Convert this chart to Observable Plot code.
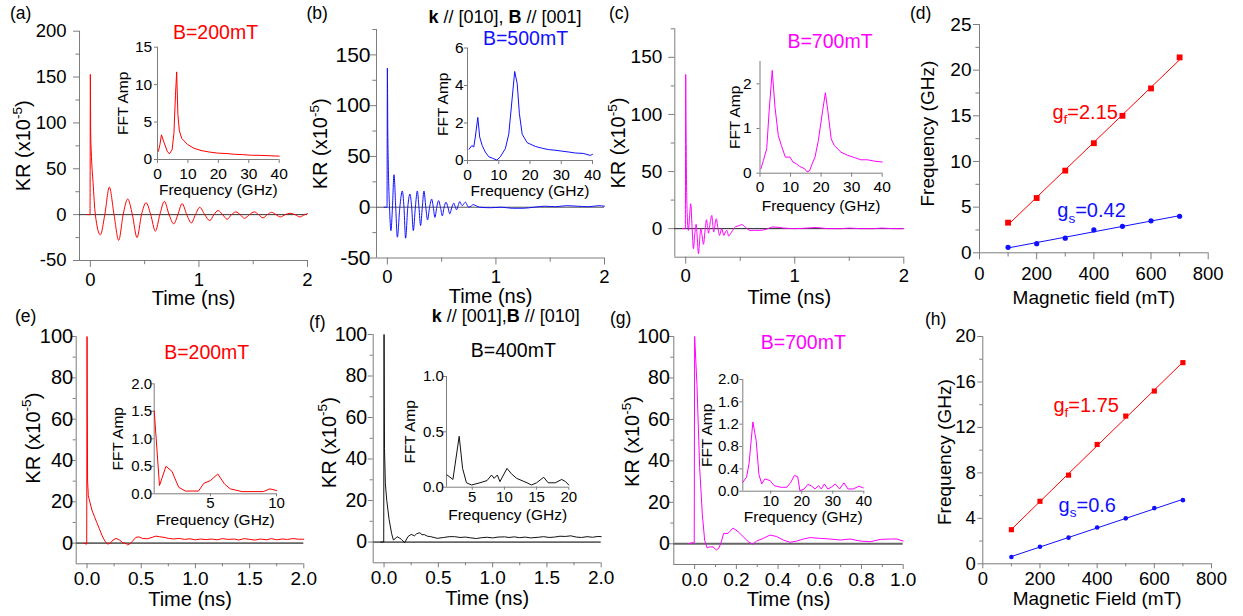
<!DOCTYPE html>
<html><head><meta charset="utf-8">
<script src="https://cdn.jsdelivr.net/npm/d3@7"></script>
<script src="https://cdn.jsdelivr.net/npm/@observablehq/plot@0.6"></script>
<style>
body{margin:0;background:#fff;}
#root{position:relative;width:1243px;height:616px;overflow:hidden;background:#fff;font-family:"Liberation Sans",Arial,sans-serif;}
#root svg{position:absolute;left:0;top:0;overflow:visible;}
.lbl{position:absolute;line-height:1;white-space:nowrap;font-family:"Liberation Sans",Arial,sans-serif;}
</style></head><body><div id="root"></div><script>
// ---------------- data ----------------
// time traces [time (ns), KR (x1e-5)]
const traceA = [[-0.03,0],[-0.003,0],[0,153],[0.003,90],[0.008,70],[0.025,35],[0.046,0],[0.092,-22],[0.133,0],[0.175,30],[0.218,0],[0.261,-28],[0.302,0],[0.344,17],[0.387,0],[0.43,-25],[0.471,0],[0.513,13],[0.556,0],[0.599,-18],[0.64,0],[0.682,14.5],[0.725,0],[0.768,-10],[0.806,0],[0.845,12],[0.888,0],[0.93,-9],[0.968,0],[1.007,8],[1.053,0],[1.10,-6.5],[1.138,0],[1.177,4.5],[1.218,0],[1.26,-5],[1.30,0],[1.34,3],[1.38,0],[1.42,-4],[1.465,0],[1.51,3],[1.55,0],[1.59,-3.5],[1.63,0],[1.67,2.5],[1.71,0],[1.75,-2.5],[1.795,0],[1.84,1.5],[1.885,0],[1.93,-2.5],[1.965,-0.5],[2.0,1]];
const traceB = [[-0.03,0],[-0.003,0],[0,137],[0.004,75],[0.009,40],[0.02,0],[0.033,-23],[0.047,0],[0.061,32],[0.077,0],[0.092,-29.5],[0.115,0],[0.138,16],[0.153,0],[0.168,-30.5],[0.188,0],[0.208,13],[0.224,0],[0.239,-23],[0.258,0],[0.276,16],[0.291,0],[0.306,-18],[0.322,0],[0.337,16],[0.354,0],[0.370,-12.5],[0.389,0],[0.408,8],[0.423,0],[0.438,-10],[0.455,0],[0.472,6.5],[0.489,0],[0.506,-8.5],[0.523,0],[0.54,5],[0.558,0],[0.575,-6.5],[0.594,0],[0.612,4],[0.625,0.5],[0.637,-2.5],[0.652,1.5],[0.667,5.5],[0.679,3],[0.69,1.5],[0.705,3.5],[0.72,5],[0.735,2],[0.75,0],[0.77,1],[0.79,2.5],[0.85,0],[0.95,-0.5],[1.05,0],[1.15,-1],[1.25,-1],[1.35,0],[1.45,1],[1.55,0.5],[1.65,1.5],[1.75,1],[1.85,0.5],[1.95,1.5],[2.0,1]];
const traceC = [[-0.03,0],[-0.003,0],[0,135],[0.003,90],[0.008,38],[0.015,10],[0.025,-1.5],[0.035,10],[0.046,21.8],[0.058,2],[0.071,-17.5],[0.083,-5],[0.096,3.8],[0.106,-8],[0.117,-21.9],[0.128,-10],[0.138,0],[0.150,-6],[0.163,-13.7],[0.177,-2],[0.191,7.8],[0.200,2],[0.209,-4],[0.224,5],[0.24,11.6],[0.248,4],[0.257,-3],[0.268,3],[0.28,8.7],[0.295,1],[0.31,-6],[0.32,-3],[0.33,0],[0.34,-3],[0.35,-6],[0.364,-3],[0.378,-1.5],[0.386,-4],[0.393,-6.5],[0.42,-3],[0.455,1.5],[0.485,2.5],[0.515,3.5],[0.55,1],[0.59,-1.5],[0.63,-1.5],[0.68,-1.5],[0.74,-0.5],[0.80,1.5],[0.9,0.5],[1.0,0],[1.11,0.5],[1.2,1],[1.3,0],[1.42,0],[1.5,0.5],[1.6,0],[1.72,0],[1.8,0.5],[1.9,0],[2.0,0]];
const traceE = [[-0.03,0],[-0.003,-0.5],[0,100],[0.005,30],[0.012,23],[0.021,21],[0.045,16],[0.067,13],[0.09,10],[0.113,7],[0.14,3.5],[0.165,1],[0.19,-0.5],[0.215,0],[0.24,1.5],[0.267,2.3],[0.30,1.5],[0.33,0.2],[0.36,-0.2],[0.374,-0.8],[0.40,-0.2],[0.42,1],[0.45,2.8],[0.48,3],[0.51,2.3],[0.556,2.1],[0.60,2.8],[0.635,3.4],[0.67,3.1],[0.71,2.8],[0.75,2.3],[0.80,2],[0.85,2.3],[0.9,1.8],[0.95,2.1],[1.0,1.6],[1.05,2],[1.1,1.7],[1.15,2],[1.2,1.6],[1.25,2.2],[1.3,1.8],[1.36,2],[1.4,1.5],[1.45,2.2],[1.5,1.8],[1.55,1.5],[1.6,2],[1.66,1.6],[1.7,2.2],[1.75,1.6],[1.8,2],[1.85,1.8],[1.9,2.2],[1.95,1.9],[2.0,1.9]];
const traceF = [[-0.03,0],[-0.003,0],[0,100],[0.004,45],[0.012,28],[0.025,20],[0.046,11],[0.07,4],[0.086,1],[0.1,1.5],[0.12,2.6],[0.14,2],[0.16,1.3],[0.19,-0.3],[0.22,2.6],[0.25,3.7],[0.28,3],[0.3,4],[0.33,4.5],[0.35,3.5],[0.37,3.6],[0.4,2.8],[0.43,2.6],[0.46,2.2],[0.49,1.8],[0.55,2.2],[0.6,2.6],[0.65,2.6],[0.7,2.2],[0.75,2.4],[0.8,2],[0.85,1.7],[0.9,2.1],[0.95,2.3],[1.0,2],[1.05,2.4],[1.11,2.5],[1.15,2.2],[1.2,2.5],[1.25,2.1],[1.3,2.4],[1.35,2],[1.42,2.3],[1.47,2.6],[1.52,2.2],[1.57,2.4],[1.62,2.8],[1.67,2.7],[1.72,3],[1.77,2.4],[1.82,2.2],[1.87,2.6],[1.92,2.3],[1.97,2.7],[2.0,2.6]];
const traceG = [[-0.032,0],[-0.01,0.5],[-0.002,0.3],[0,100],[0.011,77],[0.024,36.7],[0.037,14],[0.048,1.6],[0.06,-2],[0.072,-1.5],[0.088,-1.5],[0.104,-3],[0.117,-2],[0.128,1],[0.139,5],[0.16,5],[0.184,7.6],[0.208,5.9],[0.232,3.5],[0.257,1],[0.278,-0.3],[0.297,1.3],[0.329,2.6],[0.361,4.2],[0.393,3.5],[0.425,1.8],[0.457,0.7],[0.489,1.3],[0.522,2.3],[0.554,3],[0.6,2.6],[0.65,2.3],[0.698,1.8],[0.746,2.3],[0.794,1.3],[0.842,1],[0.89,2.1],[0.939,2.3],[0.97,2.3],[1.0,1.3]];
// FFT insets [frequency (GHz), amplitude]
const fftA = [[0.3,1.1],[0.8,2],[1.3,3.3],[2.2,2.2],[3.2,1.1],[3.9,0.75],[4.8,1.3],[5.4,3.5],[5.9,8.5],[6.3,11.7],[6.7,6],[7.2,3.8],[8,2.8],[9.9,2.0],[12,1.5],[14.3,1.2],[17,1],[19.8,0.85],[22.5,0.8],[25.3,0.7],[28,0.65],[30.8,0.57],[34,0.55],[37,0.5],[40,0.45]];
const fftB = [[0.5,0.6],[1.4,0.8],[2.0,0.72],[2.5,1.25],[3.3,2.3],[3.9,1.25],[4.7,0.8],[5.7,0.45],[6.8,0.2],[8.0,0.12],[9.4,0.02],[10.5,0.2],[12.1,0.63],[13.2,1.4],[14.0,2.8],[15.1,4.75],[15.9,4.1],[16.6,2.5],[17.5,1.4],[19.1,0.95],[21.7,0.75],[24,0.65],[26,0.58],[28,0.55],[30.2,0.5],[32.5,0.45],[34.5,0.4],[37,0.38],[39.3,0.27],[40,0.33]];
const fftC = [[0.3,0.1],[1.1,0.28],[2.2,0.55],[3.0,1.4],[4.0,2.3],[4.9,1.48],[6.0,0.84],[7.0,0.62],[8.3,0.36],[9.8,0.36],[10.8,0.25],[11.9,0.21],[13,0.15],[14.6,0.1],[15.4,0.03],[16.2,0.05],[16.9,0.18],[18,0.36],[19.1,0.73],[20.5,1.4],[21.4,1.8],[22.2,1.4],[23.3,0.77],[24.3,0.62],[26.5,0.47],[28.7,0.4],[30.9,0.35],[33,0.3],[35.2,0.3],[37.4,0.27],[40,0.25]];
const fftE = [[0.75,1.51],[1.15,0.15],[1.64,0.5],[2.09,0.41],[2.6,0.12],[3.1,0.05],[4.1,0.05],[4.5,0.19],[5.0,0.24],[5.56,0.36],[6.06,0.18],[6.5,0.09],[7.4,0.04],[9.0,0.04],[9.5,0.09],[10,0.06]];
const fftF = [[1.1,0.11],[2.0,0.07],[2.97,0.46],[3.5,0.17],[4.1,0.04],[4.9,0.02],[6.2,0.04],[7.3,0.06],[8.0,0.11],[8.4,0.08],[8.9,0.11],[9.3,0.05],[10.4,0.17],[11.1,0.12],[11.9,0.08],[13.5,0.04],[14.2,0.02],[15,0.04],[16.1,0.09],[16.8,0.04],[17.9,0.04],[18.9,0.07],[19.5,0.05],[20,0.02]];
const fftG = [[1,0.16],[2.2,0.25],[3.0,0.49],[4.25,1.24],[5.3,0.91],[6.2,0.3],[7.1,0.13],[8.1,0.22],[9.8,0.19],[11.1,0.1],[13.3,0.07],[15.2,0.07],[16.5,0.16],[17.6,0.28],[18.7,0.26],[19.4,0.01],[20.8,0.04],[21.9,0.12],[23,0.1],[24.3,0.04],[25.4,0.1],[26.3,0.04],[27.3,0.13],[28.4,0.04],[29.5,0.07],[30.8,0.13],[32.2,0.04],[33.6,0.15],[34.9,0.04],[36.6,0.04],[38.4,0.09],[39.8,0.06]];
// field dependence
const fieldMT = [100,200,300,400,500,600,700];
const fastD = [3.3,6,9,12,15,18,21.4];
const slowD = [0.6,1.0,1.6,2.5,2.9,3.5,4.0];
const fastH = [3.0,5.5,7.8,10.5,13.0,15.2,17.7];
const slowH = [0.6,1.5,2.3,3.2,4.0,4.9,5.6];
const annD = [{t:"g_{f}=2.15", x:255, y:14.7, c:"red"},{t:"g_{s}=0.42", x:272, y:3.9, c:"blue"}];
const annH = [{t:"g_{f}=1.75", x:247, y:13.4, c:"red"},{t:"g_{s}=0.6", x:265, y:4.6, c:"blue"}];

// ---------------- drawing ----------------
const W = 1243, H = 616;
const FONT = '"Liberation Sans", Arial, sans-serif';
const AX = "#7d7d7d";
const RED = "#ff0000", BLUE = "#1010ff", MAG = "#ff00ff";
const root = document.getElementById("root");
const f0 = d => String(d);
const f1 = d => d.toFixed(1);

function richText(svg) {
  svg.querySelectorAll("text").forEach(t => {
    const s = t.textContent;
    if (!/[\^_]\{/.test(s)) return;
    const fs = parseFloat(getComputedStyle(t).fontSize);
    t.textContent = "";
    let shift = 0;
    s.split(/([\^_]\{[^}]*\})/).filter(x => x).forEach(part => {
      const ts = document.createElementNS("http://www.w3.org/2000/svg", "tspan");
      let target = 0, txt = part, small = false;
      if (part[0] === "^") { target = -0.42 * fs; txt = part.slice(2, -1); small = true; }
      else if (part[0] === "_") { target = 0.28 * fs; txt = part.slice(2, -1); small = true; }
      ts.setAttribute("dy", target - shift);
      shift = target;
      if (small) ts.setAttribute("font-size", 0.68 * fs);
      ts.textContent = txt;
      t.appendChild(ts);
    });
  });
}

function panel(p) {
  const [l, t, r, b] = p.frame;
  const marks = [
    Plot.ruleX([p.x[0]], {stroke: AX}),
    Plot.ruleY([p.y[0]], {stroke: AX}),
    Plot.axisY({ticks: p.yTicks, tickSize: p.yTick, tickPadding: p.yPad, stroke: AX, fill: "black", tickFormat: p.yFmt || f0, label: null, fontSize: p.yFont || p.fontSize}),
    Plot.axisX({ticks: p.xTicks, tickSize: p.xTick, tickPadding: p.xPad, stroke: AX, fill: "black", tickFormat: p.xFmt || f0, label: null})
  ];
  if (p.yMinor) marks.push(Plot.axisY({ticks: p.yMinor, tickSize: p.yTick * 0.6, stroke: AX, fill: "none", tickFormat: () => "", label: null}));
  if (p.xMinor) marks.push(Plot.axisX({ticks: p.xMinor, tickSize: p.xTick * 0.6, stroke: AX, fill: "none", tickFormat: () => "", label: null}));
  if (p.xLabel) marks.push(Plot.text([p.xLabel], {text: d => d, frameAnchor: "bottom", dy: p.xLabelDy, textAnchor: "middle", lineAnchor: "middle", fontSize: p.labelSize, fill: "black"}));
  if (p.yLabel) marks.push(Plot.text([p.yLabel], {text: d => d, frameAnchor: "left", dx: p.yLabelDx, dy: p.yLabelDy || 0, rotate: -90, textAnchor: "middle", lineAnchor: "middle", fontSize: p.labelSize, fill: "black"}));
  marks.push(...p.marks);
  const svg = Plot.plot({
    width: W, height: H,
    marginLeft: l, marginTop: t, marginRight: W - r, marginBottom: H - b,
    x: {domain: p.x}, y: {domain: p.y},
    style: {fontFamily: FONT, fontSize: p.fontSize + "px", color: "black", background: "none", overflow: "visible", position: "absolute", left: "0px", top: "0px"},
    marks
  });
  root.appendChild(svg);
  richText(svg);
}

const X = d => d[0], Y = d => d[1];
function trace(data, stroke, curve) { return Plot.line(data, {x: X, y: Y, stroke, strokeWidth: 1, curve: curve || "linear"}); }

const topMain = {fontSize: 18.5, labelSize: 20, xTick: 7, xPad: 5, yTick: 6, xLabel: "Time (ns)", yLabel: "KR (x10^{-5})", yLabelDx: -56,
  x: [-0.1, 2], xTicks: [0, 1, 2], xMinor: [0.5, 1.5]};
const botMain = {fontSize: 19, labelSize: 20, xTick: 5, xPad: 3, yTick: 5, xLabel: "Time (ns)", yLabel: "KR (x10^{-5})", xLabelDy: 35.5,
  y: [-10, 100], yTicks: [0, 20, 40, 60, 80, 100], yMinor: [10, 30, 50, 70, 90], xFmt: f1, yFont: 19.5};
const topInset = {fontSize: 15.5, labelSize: 15.5, xTick: 4, xPad: 4, yTick: 3, xLabel: "Frequency (GHz)", yLabel: "FFT Amp", x: [0, 40], xTicks: [0, 10, 20, 30, 40]};
const botInset = {fontSize: 15, labelSize: 15.5, xTick: 3, xPad: 1.5, yTick: 3, xLabel: "Frequency (GHz)", yLabel: "FFT Amp", yLabelDx: -36, yFmt: f1};

// (a)
panel({...topMain, frame: [79, 30.7, 307, 260], y: [-50, 200], yTicks: [-50, 0, 50, 100, 150, 200], yMinor: [-25, 25, 75, 125, 175], yPad: 7, xLabelDy: 38.5,
  marks: [Plot.ruleY([0], {stroke: "#333"}), trace(traceA, RED, "monotone-x")]});
panel({...topInset, frame: [157, 46.7, 278.7, 159], y: [0, 15], yTicks: [0, 5, 10, 15], yPad: 2.3, xLabelDy: 30.5, yLabelDx: -34, marks: [trace(fftA, RED)]});
// (b)
panel({...topMain, yFont: 21, frame: [376, 29, 604, 257.5], y: [-50, 175], yTicks: [-50, 0, 50, 100, 150], yMinor: [-25, 25, 75, 125, 175], yPad: 0, xLabelDy: 38.5,
  marks: [Plot.ruleY([0], {stroke: "#555"}), trace(traceB, BLUE, "monotone-x")]});
panel({...topInset, frame: [467, 47.5, 592, 160], y: [0, 6], yTicks: [0, 2, 4, 6], yPad: 1, xLabelDy: 31, yLabelDx: -24, marks: [trace(fftB, BLUE)]});
// (c)
panel({...topMain, yFont: 19, frame: [674.3, 28.3, 903.3, 256.7], y: [-25, 175], yTicks: [0, 50, 100, 150], yMinor: [25, 75, 125, 175], yPad: 6.5, xLabelDy: 40,
  marks: [Plot.ruleY([0], {stroke: "#222"}), trace(traceC, MAG, "monotone-x")]});
panel({...topInset, frame: [759.5, 61, 881.7, 172.7], y: [0, 2.5], yTicks: [0, 1, 2], yPad: 5.5, xLabelDy: 33, yLabelDx: -24.5, marks: [trace(fftC, MAG)]});
// (d)
const rowsD = fieldMT.map((b, i) => ({b, f: fastD[i], s: slowD[i]}));
panel({fontSize: 18.5, yFont: 19, labelSize: 19, xTick: 7, xPad: 7, yTick: 6, yPad: 2, frame: [979, 24, 1207.7, 252.3],
  x: [0, 800], y: [0, 25], xTicks: [0, 200, 400, 600, 800], xMinor: [100, 300, 500, 700], yTicks: [0, 5, 10, 15, 20, 25], yMinor: [2.5, 7.5, 12.5, 17.5, 22.5],
  xLabel: "Magnetic field (mT)", xLabelDy: 45.5, yLabel: "Frequency (GHz)", yLabelDx: -51.5, yLabelDy: -5,
  marks: [
    Plot.linearRegressionY(rowsD, {x: "b", y: "f", stroke: RED, strokeWidth: 1, ci: 0}),
    Plot.linearRegressionY(rowsD, {x: "b", y: "s", stroke: BLUE, strokeWidth: 1, ci: 0}),
    Plot.dot(rowsD, {x: "b", y: "f", symbol: "square", fill: RED, r: 3.3}),
    Plot.dot(rowsD, {x: "b", y: "s", symbol: "circle", fill: BLUE, r: 2.6}),
    Plot.text(annD.filter(d => d.c === "red"), {x: "x", y: "y", text: "t", fill: RED, fontSize: 20, textAnchor: "start", lineAnchor: "bottom"}),
    Plot.text(annD.filter(d => d.c === "blue"), {x: "x", y: "y", text: "t", fill: BLUE, fontSize: 20, textAnchor: "start", lineAnchor: "bottom"})
  ]});
// (e)
panel({...botMain, yFont: 20, frame: [75.7, 336, 303.3, 563.3], x: [-0.1, 2], xTicks: [0, 0.5, 1, 1.5, 2], xMinor: [0.25, 0.75, 1.25, 1.75], yPad: -2, yLabelDx: -43, yLabelDy: -12,
  marks: [Plot.ruleY([0], {stroke: "#666", strokeWidth: 1.8}), trace(traceE, RED)]});
panel({...botInset, frame: [153.7, 383.3, 276, 493.3], x: [0.75, 10], xTicks: [5, 10], y: [0, 2], yTicks: [0, 0.5, 1, 1.5, 2], yPad: -1, xPad: 1, xLabelDy: 26, marks: [trace(fftE, RED)]});
// (f)
panel({...botMain, frame: [372.7, 334, 600.7, 562.3], x: [-0.1, 2], xTicks: [0, 0.5, 1, 1.5, 2], xMinor: [0.25, 0.75, 1.25, 1.75], yPad: 1, yLabelDx: -44, yLabelDy: -6,
  marks: [Plot.ruleY([0], {stroke: "#666", strokeWidth: 1.8}), trace(traceF, "#111")]});
panel({...botInset, frame: [446, 376, 568.3, 486.7], x: [1, 20], xTicks: [5, 10, 15, 20], y: [0, 1], yTicks: [0, 0.5, 1], yPad: -0.3, xLabelDy: 28, marks: [trace(fftF, "#111")]});
// (g)
panel({...botMain, frame: [673.3, 336, 902.7, 564], x: [-0.1, 1], xTicks: [0, 0.2, 0.4, 0.6, 0.8, 1], xMinor: [0.1, 0.3, 0.5, 0.7, 0.9], yPad: -1, yLabelDx: -41, yLabelDy: -9,
  marks: [Plot.ruleY([0], {stroke: "#666", strokeWidth: 1.8}), trace(traceG, MAG)]});
panel({...botInset, frame: [742.3, 379, 863.3, 490.7], x: [1, 40], xTicks: [10, 20, 30, 40], y: [0, 2], yTicks: [0, 0.4, 0.8, 1.2, 1.6, 2], yPad: 1, xLabelDy: 25.5, marks: [trace(fftG, MAG)]});
// (h)
const rowsH = fieldMT.map((b, i) => ({b, f: fastH[i], s: slowH[i]}));
panel({fontSize: 18.5, labelSize: 19, xTick: 5, xPad: 3, yTick: 5, yPad: 2, frame: [982.3, 336, 1211, 563.3],
  x: [0, 800], y: [0, 20], xTicks: [0, 200, 400, 600, 800], xMinor: [100, 300, 500, 700], yTicks: [0, 4, 8, 12, 16, 20], yMinor: [2, 6, 10, 14, 18],
  xLabel: "Magnetic Field (mT)", xLabelDy: 35.5, yLabel: "Frequency (GHz)", yLabelDx: -38, yLabelDy: 2,
  marks: [
    Plot.linearRegressionY(rowsH, {x: "b", y: "f", stroke: RED, strokeWidth: 1, ci: 0}),
    Plot.linearRegressionY(rowsH, {x: "b", y: "s", stroke: BLUE, strokeWidth: 1, ci: 0}),
    Plot.dot(rowsH, {x: "b", y: "f", symbol: "square", fill: RED, r: 2.9}),
    Plot.dot(rowsH, {x: "b", y: "s", symbol: "circle", fill: BLUE, r: 2.3}),
    Plot.text(annH.filter(d => d.c === "red"), {x: "x", y: "y", text: "t", fill: RED, fontSize: 20, textAnchor: "start", lineAnchor: "bottom"}),
    Plot.text(annH.filter(d => d.c === "blue"), {x: "x", y: "y", text: "t", fill: BLUE, fontSize: 20, textAnchor: "start", lineAnchor: "bottom"})
  ]});

// ---------------- panel letters and headings ----------------
function label(html, x, baseline, fs, color, center) {
  const d = document.createElement("div");
  d.className = "lbl";
  d.innerHTML = html;
  d.style.fontSize = fs + "px";
  d.style.color = color;
  d.style.top = (baseline - 0.8465 * fs) + "px";
  d.style.left = x + "px";
  if (center) d.style.transform = "translateX(-50%)";
  root.appendChild(d);
}
[["(a)",10,20],["(b)",306.5,20],["(c)",609,20],["(d)",910,19.5],["(e)",15,322.5],["(f)",309,329],["(g)",610,325],["(h)",925,325.5]]
  .forEach(([s, x, y]) => label(s, x, y, 17.5, "black", false));
label("B=200mT", 215.5, 39.5, 19.5, RED, true);
label("<b>k</b> // [010], <b>B</b> // [001]", 505, 23, 18, "black", true);
label("B=500mT", 525.5, 45.5, 19.5, BLUE, true);
label("B=700mT", 830, 49, 19.5, MAG, true);
label("B=200mT", 206.7, 360, 19.5, RED, true);
label("<b>k</b> // [001],<b>B</b> // [010]", 505.8, 322, 18, "black", true);
label("B=400mT", 513.3, 358, 19.5, "black", true);
label("B=700mT", 803.3, 350, 19.5, MAG, true);
</script></body></html>
